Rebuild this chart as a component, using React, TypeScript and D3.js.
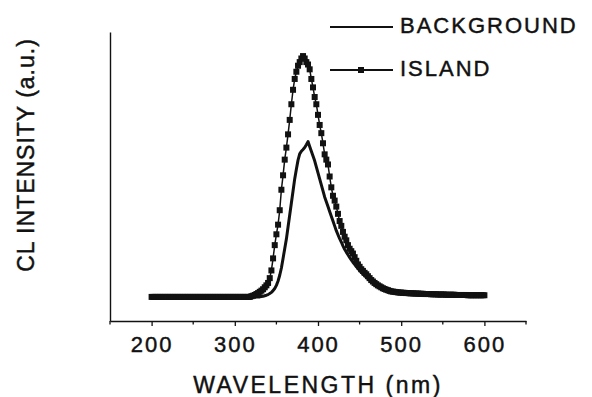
import { useEffect, useRef } from "react";
import * as d3 from "d3";

// sampling grid of the spectra (nm), one point every 2 nm
const wavelengths = d3.range(200, 601, 2);

// ISLAND spectrum (normalised to its peak), 200..600 nm
const islandValues = [
    // 200 - 318
    0, 0, 0, 0, 0, 0, 0, 0, 0, 0, 0, 0, 0, 0, 0, 0, 0, 0, 0, 0,
    0, 0, 0, 0, 0, 0, 0, 0, 0, 0, 0, 0, 0, 0, 0, 0, 0, 0, 0, 0,
    0, 0, 0, 0, 0, 0, 0, 0, 0, 0, 0, 0, 0, 0, 0, 0, 0, 0, 0, 0,
    // 320 - 398
    0.003, 0.005, 0.008, 0.012, 0.016, 0.021, 0.026, 0.032, 0.04, 0.048,
    0.058, 0.078, 0.11, 0.16, 0.215, 0.26, 0.3, 0.36, 0.445, 0.505,
    0.57, 0.62, 0.675, 0.735, 0.8, 0.86, 0.905, 0.935, 0.96, 0.975,
    0.99, 1.0, 0.99, 0.975, 0.965, 0.945, 0.905, 0.87, 0.83, 0.8,
    // 400 - 498
    0.756, 0.714, 0.68, 0.638, 0.592, 0.57, 0.55, 0.5, 0.455, 0.42,
    0.4, 0.375, 0.345, 0.315, 0.295, 0.27, 0.25, 0.235, 0.215, 0.2,
    0.19, 0.18, 0.165, 0.15, 0.135, 0.125, 0.115, 0.108, 0.1, 0.094,
    0.086, 0.078, 0.07, 0.064, 0.058, 0.053, 0.048, 0.044, 0.04, 0.036,
    0.033, 0.03, 0.028, 0.025, 0.023, 0.022, 0.021, 0.02, 0.019, 0.018,
    // 500 - 600
    0.018, 0.017, 0.017, 0.016, 0.016, 0.015, 0.015, 0.015, 0.014, 0.014,
    0.014, 0.013, 0.013, 0.013, 0.012, 0.012, 0.012, 0.012, 0.011, 0.011,
    0.011, 0.011, 0.01, 0.01, 0.01, 0.01, 0.01, 0.009, 0.009, 0.009,
    0.009, 0.009, 0.009, 0.008, 0.008, 0.008, 0.008, 0.008, 0.008, 0.008,
    0.007, 0.007, 0.007, 0.007, 0.007, 0.007, 0.007, 0.007, 0.007, 0.007,
    0.007,
];

// BACKGROUND spectrum, same grid
const backgroundValues = [
    // 200 - 330
    0, 0, 0, 0, 0, 0, 0, 0, 0, 0, 0, 0, 0, 0, 0, 0, 0, 0, 0, 0,
    0, 0, 0, 0, 0, 0, 0, 0, 0, 0, 0, 0, 0, 0, 0, 0, 0, 0, 0, 0,
    0, 0, 0, 0, 0, 0, 0, 0, 0, 0, 0, 0, 0, 0, 0, 0, 0, 0, 0, 0,
    0, 0, 0, 0, 0, 0,
    // 332 - 398
    0.002, 0.003, 0.005, 0.007, 0.01, 0.014, 0.019, 0.026, 0.035, 0.048,
    0.066, 0.09, 0.12, 0.16, 0.2, 0.24, 0.29, 0.34, 0.39, 0.44,
    0.49, 0.53, 0.568, 0.594, 0.605, 0.612, 0.62, 0.632, 0.645, 0.625,
    0.605, 0.585, 0.565, 0.54,
    // 400 - 498
    0.515, 0.49, 0.465, 0.44, 0.415, 0.395, 0.375, 0.355, 0.335, 0.315,
    0.295, 0.275, 0.258, 0.242, 0.228, 0.212, 0.198, 0.186, 0.175, 0.164,
    0.154, 0.144, 0.135, 0.126, 0.118, 0.11, 0.102, 0.095, 0.088, 0.082,
    0.076, 0.07, 0.065, 0.06, 0.055, 0.051, 0.047, 0.043, 0.04, 0.037,
    0.034, 0.031, 0.029, 0.027, 0.025, 0.023, 0.021, 0.02, 0.019, 0.018,
    // 500 - 600
    0.017, 0.016, 0.015, 0.015, 0.014, 0.014, 0.013, 0.013, 0.012, 0.012,
    0.012, 0.011, 0.011, 0.011, 0.01, 0.01, 0.01, 0.01, 0.009, 0.009,
    0.009, 0.009, 0.009, 0.008, 0.008, 0.008, 0.008, 0.008, 0.008, 0.007,
    0.007, 0.007, 0.007, 0.007, 0.007, 0.007, 0.007, 0.006, 0.006, 0.006,
    0.006, 0.006, 0.006, 0.006, 0.006, 0.006, 0.006, 0.006, 0.006, 0.006,
    0.006,
];

const xTicks = [200, 300, 400, 500, 600];
const xMinorTicks = [150, 250, 350, 450, 550, 650];
const legendLabels = ["BACKGROUND", "ISLAND"];

const FONT = "'Liberation Sans', Arial, Helvetica, sans-serif";
const INK = "#111";

const App = () => {
    const svgRef = useRef<SVGSVGElement | null>(null);

    useEffect(() => {
        if (!svgRef.current) return;
        const svg = d3.select(svgRef.current);
        svg.selectAll("*").remove();

        const margin = { top: 32, right: 66, bottom: 76, left: 110 };
        const width = 592;
        const height = 397;

        // Scales
        const xScale = d3.scaleLinear().domain([150, 650]).range([margin.left, width - margin.right]);
        const yScale = d3.scaleLinear().domain([-0.1, 1.1]).range([height - margin.bottom, margin.top]);

        const background = wavelengths.map((w, i) => ({ w, v: backgroundValues[i] }));
        const island = wavelengths.map((w, i) => ({ w, v: islandValues[i] }));

        const line = d3
            .line<{ w: number; v: number }>()
            .x((d) => xScale(d.w))
            .y((d) => yScale(d.v));

        // scanned-looking text: a thin outline thickens the glyphs a bit
        const textStyle = (sel: any, size: number, spacing: number) =>
            sel
                .attr("fill", INK)
                .attr("stroke", INK)
                .attr("stroke-width", 0.45)
                .style("font-family", FONT)
                .style("font-size", `${size}px`)
                .style("letter-spacing", `${spacing}px`);

        // Axes
        const xAxis = svg
            .append("g")
            .attr("transform", `translate(0,${height - margin.bottom})`)
            .call(d3.axisBottom(xScale).tickValues(xTicks).tickSize(5).tickSizeOuter(0).tickPadding(10));
        xAxis.select(".domain").attr("stroke", INK).attr("stroke-width", 1.4);
        xAxis.selectAll(".tick line").attr("stroke", INK).attr("stroke-width", 1.3);
        textStyle(xAxis.selectAll(".tick text"), 22, 2);

        // minor ticks
        svg
            .append("g")
            .selectAll("line")
            .data(xMinorTicks)
            .enter()
            .append("line")
            .attr("x1", (d) => xScale(d))
            .attr("x2", (d) => xScale(d))
            .attr("y1", height - margin.bottom)
            .attr("y2", height - margin.bottom + 3.5)
            .attr("stroke", INK)
            .attr("stroke-width", 1.3);

        const yAxis = svg
            .append("g")
            .attr("transform", `translate(${margin.left},0)`)
            .call(d3.axisLeft(yScale).tickValues([]).tickSizeOuter(0));
        yAxis.select(".domain").attr("stroke", INK).attr("stroke-width", 1.4);

        // Axis titles
        textStyle(
            svg
                .append("text")
                .attr("x", (margin.left + width - margin.right) / 2)
                .attr("y", 393)
                .attr("text-anchor", "middle"),
            23,
            2.5
        ).text("WAVELENGTH (nm)");

        textStyle(
            svg
                .append("text")
                .attr("transform", `translate(34,155) rotate(-90)`)
                .attr("text-anchor", "middle"),
            23,
            1
        ).text("CL INTENSITY (a.u.)");

        // Spectra
        svg
            .append("path")
            .datum(background)
            .attr("fill", "none")
            .attr("stroke", INK)
            .attr("stroke-width", 3)
            .attr("stroke-linejoin", "round")
            .attr("d", line);

        svg
            .append("path")
            .datum(island)
            .attr("fill", "none")
            .attr("stroke", INK)
            .attr("stroke-width", 1.5)
            .attr("d", line);

        const sq = 6;
        svg
            .append("g")
            .selectAll("rect")
            .data(island)
            .enter()
            .append("rect")
            .attr("x", (d) => xScale(d.w) - sq / 2)
            .attr("y", (d) => yScale(d.v) - sq / 2)
            .attr("width", sq)
            .attr("height", sq)
            .attr("fill", INK);

        // Legend
        const legend = svg.append("g");
        const legendY = [27, 70];
        legendLabels.forEach((label, i) => {
            legend
                .append("line")
                .attr("x1", 330)
                .attr("x2", 393)
                .attr("y1", legendY[i])
                .attr("y2", legendY[i])
                .attr("stroke", INK)
                .attr("stroke-width", 1.8);
            if (label === "ISLAND") {
                legend
                    .append("rect")
                    .attr("x", 361 - 3)
                    .attr("y", legendY[i] - 3)
                    .attr("width", 6)
                    .attr("height", 6)
                    .attr("fill", INK);
            }
            textStyle(
                legend
                    .append("text")
                    .attr("x", 400)
                    .attr("y", legendY[i] + 6),
                22,
                2
            ).text(label);
        });
    }, []);

    return (
        <svg
            ref={svgRef}
            width={592}
            height={397}
            style={{ position: "absolute", left: 0, top: 0, background: "#fff", display: "block" }}
        />
    );
};

export default App;
